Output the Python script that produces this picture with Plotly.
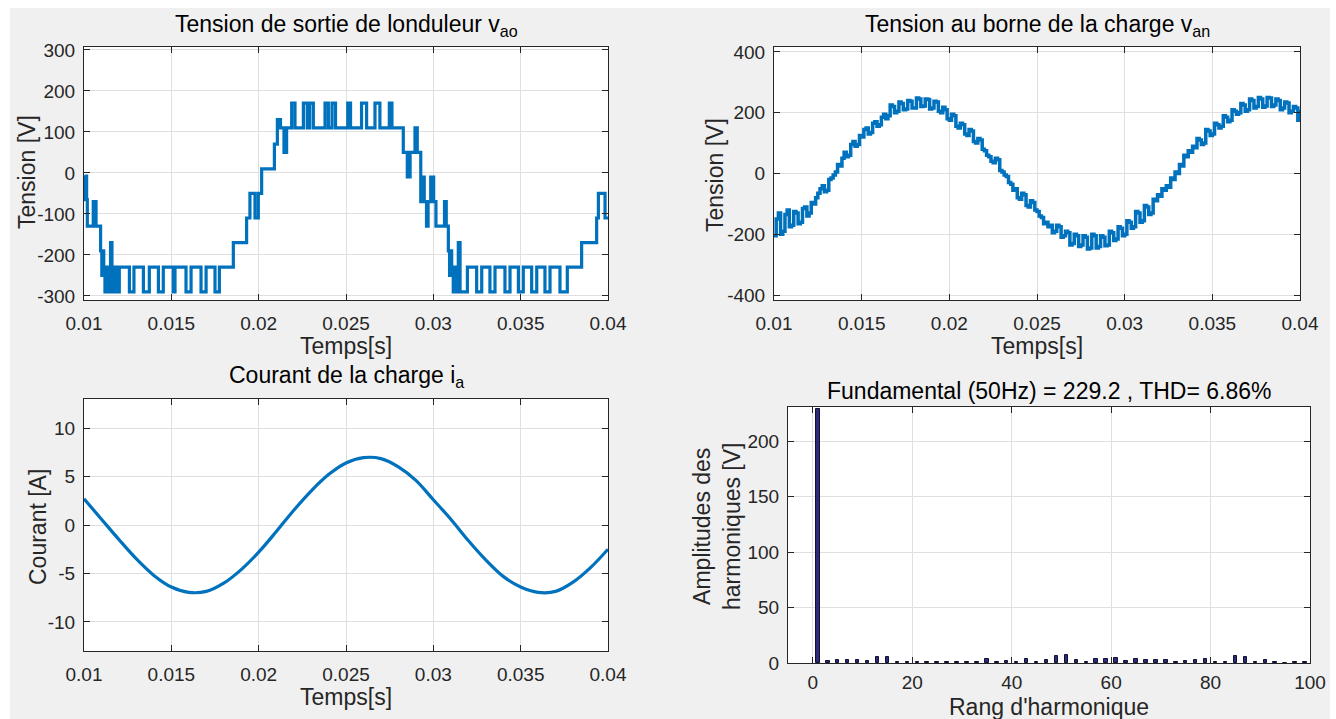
import plotly.graph_objects as go

W, H = 1336, 719

# ---------------- data ----------------
# inverter leg output voltage v_ao: switching instants [s] and the level held from each instant [V]
vao_t = [0.01000, 0.01003, 0.01006, 0.01009, 0.01012, 0.01015, 0.01019, 0.01053, 0.01069, 0.01095,
         0.01102, 0.01107, 0.01113, 0.01120, 0.01127, 0.01132, 0.01139, 0.01145, 0.01152, 0.01160,
         0.01167, 0.01173, 0.01182, 0.01189, 0.01202, 0.01260, 0.01286, 0.01340, 0.01374, 0.01426,
         0.01454, 0.01511, 0.01521, 0.01584, 0.01613, 0.01670, 0.01699, 0.01750, 0.01775, 0.01855,
         0.01931, 0.01950, 0.01979, 0.01998, 0.02017, 0.02090, 0.02107, 0.02114, 0.02119, 0.02125,
         0.02145, 0.02160, 0.02189, 0.02208, 0.02256, 0.02278, 0.02292, 0.02313, 0.02380, 0.02399,
         0.02420, 0.02440, 0.02510, 0.02526, 0.02589, 0.02618, 0.02666, 0.02694, 0.02748, 0.02763,
         0.02828, 0.02851, 0.02867, 0.02895, 0.02908, 0.02928, 0.02940, 0.02948, 0.02961, 0.02970,
         0.02985, 0.02990, 0.02996, 0.03002, 0.03015, 0.03064, 0.03074, 0.03086, 0.03093, 0.03098,
         0.03105, 0.03114, 0.03122, 0.03128, 0.03135, 0.03143, 0.03153, 0.03195, 0.03248, 0.03277,
         0.03324, 0.03353, 0.03410, 0.03439, 0.03487, 0.03515, 0.03563, 0.03592, 0.03639, 0.03668,
         0.03725, 0.03767, 0.03849, 0.03935, 0.03945, 0.03983, 0.04000]
vao_v = [-10, -65, -10, -62, -8, -65, -130, -70, -130, -190,
         -250, -190, -250, -290, -230, -290, -230, -290, -170, -290,
         -230, -290, -230, -290, -230, -290, -230, -290, -230, -290,
         -230, -290, -230, -290, -230, -290, -230, -290, -230, -170,
         -110, -50, -110, -50, 10, 70, 130, 110, 130, 110,
         50, 110, 170, 110, 170, 110, 170, 110, 170, 110,
         170, 110, 170, 110, 170, 110, 170, 110, 170, 110,
         50, -10, 50, 110, 50, -70, -10, -70, -130, -70,
         -10, -70, -10, -70, -130, -70, -130, -190, -250, -190,
         -250, -290, -230, -290, -230, -170, -290, -230, -290, -230,
         -290, -230, -290, -230, -290, -230, -290, -230, -290, -230,
         -290, -230, -170, -110, -50, -110, -110]

# load phase voltage v_an, one sample every 0.125 ms starting at 10 ms [V]
van_start = 0.010
van_step = 0.000125
van_v = [-205, -150, -130, -200, -190, -135, -120, -175, -170, -125, -130, -165, -160, -115, -110, -140, -130, -95, -100, -80,
         -65, -50, -40, -60, -55, -20, -15, -5, 5, 30, 25, 50, 70, 55, 60, 95, 105, 90, 95, 125,
         120, 145, 150, 130, 135, 165, 170, 155, 160, 185, 195, 180, 190, 225, 220, 200, 205, 235, 230, 210,
         212, 240, 238, 215, 215, 248, 245, 220, 222, 245, 243, 212, 215, 238, 235, 205, 200, 218, 210, 180,
         175, 195, 190, 155, 150, 165, 160, 130, 125, 145, 140, 105, 100, 115, 110, 80, 75, 60, 55, 40,
         35, 50, 45, 10, 5, -5, -10, -30, -35, -55, -50, -80, -85, -65, -70, -105, -110, -90, -95, -120,
         -125, -140, -145, -165, -160, -175, -170, -195, -190, -170, -175, -210, -205, -190, -195, -235, -230, -200, -205, -240,
         -235, -205, -210, -248, -245, -200, -205, -245, -240, -205, -210, -238, -235, -190, -195, -220, -215, -175, -180, -205,
         -200, -155, -160, -180, -175, -125, -130, -160, -155, -105, -110, -135, -130, -85, -90, -70, -75, -50, -55, -40,
         -45, -15, -20, 5, 0, 30, 25, 60, 55, 75, 70, 90, 85, 115, 110, 95, 100, 145, 140, 125,
         130, 165, 160, 150, 155, 190, 185, 170, 175, 210, 205, 195, 200, 230, 225, 205, 210, 245, 240, 215,
         220, 250, 245, 218, 222, 250, 248, 220, 225, 245, 240, 210, 215, 235, 232, 200, 205, 220, 215, 175,
         210]
van_t = [round(van_start + k * van_step, 6) for k in range(len(van_v))]

# load current i_a, one sample every 1 ms [A]
ia_t = [0.010, 0.011, 0.012, 0.013, 0.014, 0.015, 0.016, 0.017, 0.018, 0.019,
        0.020, 0.021, 0.022, 0.023, 0.024, 0.025, 0.026, 0.027, 0.028, 0.029,
        0.030, 0.031, 0.032, 0.033, 0.034, 0.035, 0.036, 0.037, 0.038, 0.039, 0.040]
ia_v = [2.7, 0.6, -1.5, -3.5, -5.2, -6.4, -6.95, -6.85, -6.0, -4.6,
        -2.8, -0.7, 1.5, 3.5, 5.2, 6.4, 6.95, 6.85, 6.0, 4.6,
        2.6, 0.6, -1.6, -3.6, -5.3, -6.4, -6.95, -6.85, -5.9, -4.4, -2.5]

# harmonic spectrum of v_an: odd orders and amplitudes [V]
h_order = [1, 3, 5, 7, 9, 11, 13, 15, 17, 19, 21, 23, 25, 27, 29, 31, 33, 35, 37, 39,
           41, 43, 45, 47, 49, 51, 53, 55, 57, 59, 61, 63, 65, 67, 69, 71, 73, 75, 77, 79,
           81, 83, 85, 87, 89, 91, 93, 95, 97, 99]
h_amp = [229.2, 2.0, 3.0, 2.5, 2.5, 1.5, 5.0, 5.0, 1.0, 0.8, 0.8, 0.7, 0.6, 0.6, 0.7, 0.8, 0.9, 3.3, 1.0, 2.0,
         1.0, 4.0, 1.0, 2.5, 6.3, 7.0, 2.5, 1.0, 4.0, 3.6, 4.2, 2.0, 3.3, 3.0, 2.4, 2.4, 1.2, 2.0, 2.7, 3.3,
         1.2, 1.2, 6.0, 5.0, 1.2, 3.0, 1.0, 0.3, 0.6, 0.6]

time_ticks = [0.01, 0.015, 0.02, 0.025, 0.03, 0.035, 0.04]
time_ticktext = ["0.01", "0.015", "0.02", "0.025", "0.03", "0.035", "0.04"]
vao_ticks = [-300, -200, -100, 0, 100, 200, 300]
van_ticks = [-400, -200, 0, 200, 400]
ia_ticks = [-10, -5, 0, 5, 10]
h_xticks = [0, 20, 40, 60, 80, 100]
h_yticks = [0, 50, 100, 150, 200]

titles = ["Tension de sortie de londuleur v<sub>ao</sub>",
          "Tension au borne de la charge v<sub>an</sub>",
          "Courant de la charge i<sub>a</sub>",
          "Fundamental (50Hz) = 229.2 , THD= 6.86%"]

# ---------------- styling ----------------
FONT = "Liberation Sans, Arial, Helvetica, sans-serif"
AXC = "#262626"
GRID = "#dfdfdf"
BLUE = "#0072BD"
TICK_SIZE = 19
LABEL_SIZE = 23


def fx(px):
    return px / W


def fy(py):
    return 1 - py / H


def labels(vals):
    # plain hyphen-minus, as in the original software's tick labels
    return [str(v) for v in vals]


def axis_style(**kw):
    base = dict(
        showline=True, linecolor=AXC, linewidth=1, mirror="ticks",
        ticks="inside", ticklen=6, tickcolor=AXC, tickwidth=1,
        showgrid=True, gridcolor=GRID, gridwidth=1, zeroline=False,
        tickfont=dict(family=FONT, size=TICK_SIZE, color=AXC),
        automargin=False, fixedrange=True,
    )
    base.update(kw)
    return base


fig = go.Figure()

fig.add_trace(go.Scatter(x=vao_t, y=vao_v, mode="lines", line=dict(color=BLUE, width=3.2, shape="hv"),
                         xaxis="x", yaxis="y", showlegend=False))
fig.add_trace(go.Scatter(x=van_t, y=van_v, mode="lines", line=dict(color=BLUE, width=3.5, shape="hv"),
                         xaxis="x2", yaxis="y2", showlegend=False))
fig.add_trace(go.Scatter(x=ia_t, y=ia_v, mode="lines", line=dict(color=BLUE, width=3.2, shape="spline"),
                         xaxis="x3", yaxis="y3", showlegend=False))
fig.add_trace(go.Bar(x=h_order, y=h_amp, width=0.7,
                     marker=dict(color="#2b2b7a", line=dict(color="#101030", width=1)),
                     xaxis="x4", yaxis="y4", showlegend=False))

# panel boxes in pixels: (left, right, top, bottom)
boxes = {
    1: (84, 608, 47, 300),
    2: (774, 1300, 47, 300),
    3: (84, 608, 399, 651),
    4: (788, 1310, 407, 663),
}

layout = dict(
    width=W, height=H,
    margin=dict(l=0, r=0, t=0, b=0),
    paper_bgcolor="#f0f0f0", plot_bgcolor="#ffffff",
    template="none", showlegend=False, bargap=0,
    font=dict(family=FONT, color=AXC),
)

for i in (1, 2, 3):
    l, r, t, b = boxes[i]
    sx = "" if i == 1 else str(i)
    layout["xaxis" + sx] = axis_style(domain=[fx(l), fx(r)], range=[0.01, 0.04], tickvals=time_ticks,
                                      ticktext=time_ticktext, anchor="y" + sx, ticklabelstandoff=6)

l, r, t, b = boxes[1]
layout["yaxis"] = axis_style(domain=[fy(b), fy(t)], range=[-310, 307],
                             tickvals=vao_ticks, ticktext=labels(vao_ticks), anchor="x", ticklabelstandoff=4)
l, r, t, b = boxes[2]
layout["yaxis2"] = axis_style(domain=[fy(b), fy(t)], range=[-416, 416],
                              tickvals=van_ticks, ticktext=labels(van_ticks), anchor="x2", ticklabelstandoff=4)
l, r, t, b = boxes[3]
layout["yaxis3"] = axis_style(domain=[fy(b), fy(t)], range=[-13, 13],
                              tickvals=ia_ticks, ticktext=labels(ia_ticks), anchor="x3", ticklabelstandoff=4)
l, r, t, b = boxes[4]
layout["xaxis4"] = axis_style(domain=[fx(l), fx(r)], range=[-5, 100], tickvals=h_xticks,
                              ticktext=labels(h_xticks), anchor="y4", ticklabelstandoff=2)
layout["yaxis4"] = axis_style(domain=[fy(b), fy(t)], range=[0, 231], tickvals=h_yticks,
                              ticktext=labels(h_yticks), anchor="x4", ticklabelstandoff=4)

fig.update_layout(**layout)

# titles and axis labels
ann = []
title_pos = [(346, 25), (1037, 25), (346, 376), (1049, 391)]
for text, (px, py) in zip(titles, title_pos):
    ann.append(dict(text=text, x=fx(px), y=fy(py), xref="paper", yref="paper",
                    xanchor="center", yanchor="middle", showarrow=False,
                    font=dict(family=FONT, size=LABEL_SIZE, color="#000000")))

xlabels = [("Temps[s]", 346, 346), ("Temps[s]", 1037, 346), ("Temps[s]", 346, 697),
           ("Rang d'harmonique", 1049, 707)]
for text, px, py in xlabels:
    ann.append(dict(text=text, x=fx(px), y=fy(py), xref="paper", yref="paper",
                    xanchor="center", yanchor="middle", showarrow=False,
                    font=dict(family=FONT, size=LABEL_SIZE, color=AXC)))

ylabels = [("Tension [V]", 27, 172), ("Tension [V]", 715, 175), ("Courant [A]", 38, 527),
           ("Amplitudes des<br>harmoniques [V]", 717, 527)]
for text, px, py in ylabels:
    ann.append(dict(text=text, x=fx(px), y=fy(py), xref="paper", yref="paper",
                    xanchor="center", yanchor="middle", showarrow=False, textangle=-90,
                    font=dict(family=FONT, size=LABEL_SIZE, color=AXC)))

fig.update_layout(annotations=ann)

# white border strips around the grey figure area
for x0, x1, y0, y1 in [(0, 10, 0, H), (1330, W, 0, H), (0, W, 0, 8)]:
    fig.add_shape(type="rect", xref="paper", yref="paper",
                  x0=fx(x0), x1=fx(x1), y0=fy(y1), y1=fy(y0),
                  fillcolor="#ffffff", line=dict(width=0), layer="above")

fig.write_html("out.html")
